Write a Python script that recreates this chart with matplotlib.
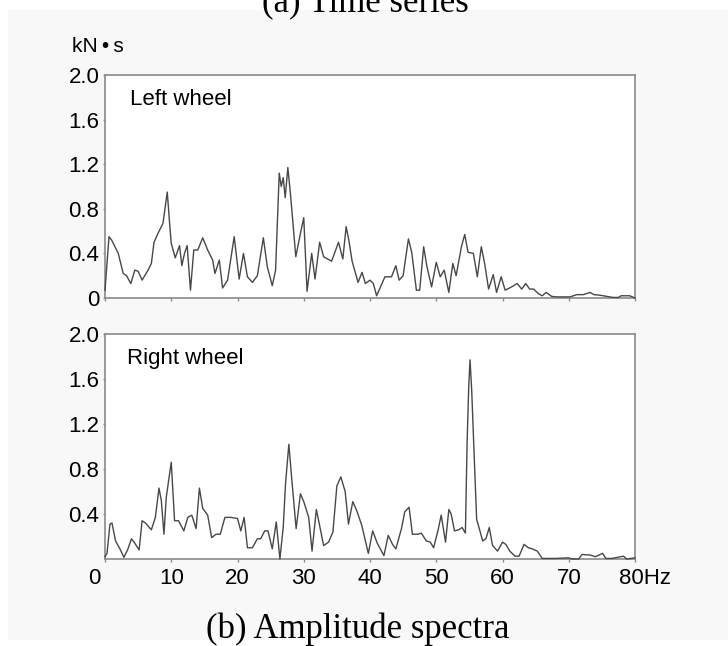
import matplotlib
matplotlib.use("Agg")
import matplotlib.pyplot as plt
import matplotlib.transforms as mtransforms
from matplotlib.patches import Rectangle
import numpy as np

# amplitude spectra: (frequency Hz, amplitude kN*s)
left_wheel = [
    (0.0, 0.07), (0.6, 0.55), (1.0, 0.52), (2.0, 0.40), (2.75, 0.22), (3.25, 0.20),
    (3.9, 0.13), (4.5, 0.25), (5.0, 0.24), (5.6, 0.16), (6.5, 0.25), (7.0, 0.31),
    (7.4, 0.50), (8.0, 0.58), (8.75, 0.67), (9.4, 0.95), (9.75, 0.67), (10.0, 0.49),
    (10.6, 0.36), (11.25, 0.47), (11.6, 0.29), (12.0, 0.40), (12.4, 0.47), (12.9, 0.07),
    (13.4, 0.43), (14.0, 0.43), (14.75, 0.54), (15.5, 0.43), (16.25, 0.34), (16.6, 0.22),
    (17.25, 0.34), (17.75, 0.09), (18.5, 0.16), (19.5, 0.55), (20.25, 0.17), (20.9, 0.40),
    (21.5, 0.19), (22.25, 0.14), (23.0, 0.20), (23.9, 0.54), (24.5, 0.28), (25.25, 0.11),
    (25.75, 0.25), (26.0, 0.65), (26.3, 1.12), (26.6, 1.00), (26.9, 1.08), (27.2, 0.90),
    (27.6, 1.17), (28.0, 0.93), (28.8, 0.37), (29.5, 0.58), (30.0, 0.72), (30.5, 0.06),
    (31.2, 0.40), (31.7, 0.17), (32.4, 0.50), (33.0, 0.37), (34.2, 0.33), (35.25, 0.50),
    (35.9, 0.35), (36.4, 0.64), (36.8, 0.52), (37.3, 0.33), (38.2, 0.14), (38.8, 0.23),
    (39.3, 0.13), (40.0, 0.16), (40.5, 0.13), (41.0, 0.02), (42.25, 0.19), (43.25, 0.19),
    (43.9, 0.29), (44.4, 0.16), (45.0, 0.20), (45.8, 0.53), (46.3, 0.41), (47.0, 0.07),
    (47.5, 0.07), (48.1, 0.46), (48.6, 0.28), (49.3, 0.10), (50.0, 0.32), (50.6, 0.19),
    (51.2, 0.25), (51.9, 0.05), (52.5, 0.31), (53.0, 0.20), (53.8, 0.46), (54.3, 0.57),
    (54.8, 0.41), (55.6, 0.40), (56.2, 0.19), (56.8, 0.46), (57.3, 0.31), (57.9, 0.08),
    (58.6, 0.21), (59.1, 0.05), (59.8, 0.19), (60.4, 0.07), (61.4, 0.10), (62.2, 0.13),
    (62.9, 0.08), (63.5, 0.13), (64.1, 0.08), (64.7, 0.08), (65.4, 0.04), (66.0, 0.02),
    (66.6, 0.05), (67.4, 0.015), (68.1, 0.01), (70.2, 0.01), (71.2, 0.03), (72.2, 0.03),
    (73.2, 0.05), (73.8, 0.03), (74.7, 0.025), (76.7, 0.005), (77.5, 0.005), (77.9, 0.02),
    (79.2, 0.02), (80.0, 0.0),
]

right_wheel = [
    (0.0, 0.02), (0.3, 0.05), (0.75, 0.31), (1.05, 0.32), (1.6, 0.16), (2.25, 0.09),
    (2.85, 0.015), (3.4, 0.08), (4.0, 0.18), (4.5, 0.14), (5.15, 0.08), (5.6, 0.34),
    (6.1, 0.32), (7.0, 0.26), (7.6, 0.37), (8.15, 0.63), (8.5, 0.52), (8.9, 0.22),
    (9.25, 0.55), (10.0, 0.86), (10.5, 0.34), (11.1, 0.34), (11.9, 0.25), (12.5, 0.37),
    (13.1, 0.39), (13.75, 0.27), (14.25, 0.63), (14.75, 0.45), (15.5, 0.39), (16.1, 0.19),
    (16.75, 0.22), (17.4, 0.22), (18.1, 0.37), (19.0, 0.37), (20.0, 0.36), (20.5, 0.25),
    (21.0, 0.37), (21.5, 0.10), (22.25, 0.10), (23.0, 0.18), (23.5, 0.18), (24.1, 0.25),
    (24.6, 0.25), (25.25, 0.09), (25.85, 0.33), (26.4, 0.0), (26.9, 0.28), (27.25, 0.67),
    (27.75, 1.02), (28.25, 0.67), (28.85, 0.27), (29.5, 0.58), (30.0, 0.51), (30.75, 0.37),
    (31.25, 0.07), (31.9, 0.44), (32.25, 0.34), (33.0, 0.12), (33.75, 0.15), (34.4, 0.24),
    (35.0, 0.65), (35.6, 0.73), (36.25, 0.60), (36.75, 0.31), (37.4, 0.51), (38.0, 0.43),
    (38.75, 0.30), (39.75, 0.05), (40.4, 0.25), (41.1, 0.14), (42.1, 0.03), (42.75, 0.21),
    (43.4, 0.13), (43.9, 0.09), (44.75, 0.27), (45.25, 0.42), (45.9, 0.46), (46.4, 0.22),
    (47.25, 0.22), (47.75, 0.23), (48.5, 0.16), (49.1, 0.15), (49.6, 0.10), (50.25, 0.25),
    (50.75, 0.39), (51.4, 0.15), (51.9, 0.44), (52.25, 0.40), (52.75, 0.25), (53.4, 0.26),
    (53.9, 0.28), (54.4, 0.23), (54.65, 1.02), (54.9, 1.53), (55.1, 1.77), (55.35, 1.50),
    (55.75, 0.88), (56.1, 0.35), (56.5, 0.27), (57.0, 0.16), (57.5, 0.18), (58.0, 0.28),
    (58.5, 0.12), (59.25, 0.07), (60.0, 0.15), (60.5, 0.13), (61.1, 0.07), (61.9, 0.025),
    (62.5, 0.025), (63.25, 0.13), (63.9, 0.10), (64.5, 0.09), (65.25, 0.07), (66.0, 0.005),
    (68.0, 0.005), (70.0, 0.01), (70.5, 0.0), (71.5, 0.0), (72.0, 0.04), (73.25, 0.035),
    (74.0, 0.02), (75.1, 0.05), (75.6, 0.005), (76.5, 0.005), (78.25, 0.025), (78.75, 0.0),
    (80.0, 0.01),
]

x_ticks = [0, 10, 20, 30, 40, 50, 60, 70, 80]
x_labels = ["0", "10", "20", "30", "40", "50", "60", "70", "80Hz"]
y_ticks_top = [0, 0.4, 0.8, 1.2, 1.6, 2.0]
y_labels_top = ["0", "0.4", "0.8", "1.2", "1.6", "2.0"]
y_ticks_bot = [0.4, 0.8, 1.2, 1.6, 2.0]
y_labels_bot = ["0.4", "0.8", "1.2", "1.6", "2.0"]

sans = ["Liberation Sans", "DejaVu Sans"]
serif = "Liberation Serif"
line_col = "#484848"
frame_col = "#8a8a8a"

fig = plt.figure(figsize=(7.28, 6.46), dpi=100)
fig.patch.set_facecolor("white")
# faint grey sheet behind the scanned figure
fig.patches.append(Rectangle((8 / 728, 6 / 646), 1, 630 / 646, transform=fig.transFigure,
                             facecolor="#f8f8f8", edgecolor="none", zorder=-10))

ax1 = fig.add_axes([105 / 728, 1 - 298 / 646, 530 / 728, 223 / 646])
ax2 = fig.add_axes([105 / 728, 1 - 559 / 646, 530 / 728, 225 / 646])


def style(ax):
    ax.set_xlim(0, 80)
    ax.set_ylim(0, 2.0)
    for s in ax.spines.values():
        s.set_color(frame_col)
        s.set_linewidth(1.2)
    ax.tick_params(axis="x", direction="out", length=2, width=1, color=frame_col,
                   pad=4.5, labelsize=16)
    ax.tick_params(axis="y", direction="out", length=1.5, width=1, color=frame_col,
                   pad=2.5, labelsize=16)
    ax.set_xticks(x_ticks)


for ax, pts, name, tx in [(ax1, left_wheel, "Left wheel", 0.047),
                          (ax2, right_wheel, "Right wheel", 0.041)]:
    arr = np.array(pts)
    style(ax)
    ax.plot(arr[:, 0], arr[:, 1], color=line_col, lw=1.0, clip_on=False, zorder=3)
    ax.text(tx, 0.89, name, transform=ax.transAxes, ha="left", va="center",
            fontsize=16, family=sans)

ax1.set_yticks(y_ticks_top)
ax1.set_yticklabels(y_labels_top, family=sans)
ax1.set_xticklabels([])

ax2.set_yticks(y_ticks_bot)
ax2.set_yticklabels(y_labels_bot, family=sans)
ax2.set_xticklabels(x_labels, family=sans)

# keep "80" centred on its tick with "Hz" hanging to the right, and pull "0" to the corner
lbls = ax2.get_xticklabels()
lbls[-1].set_transform(lbls[-1].get_transform() +
                       mtransforms.ScaledTranslation(0.10, 0, fig.dpi_scale_trans))
lbls[0].set_transform(lbls[0].get_transform() +
                      mtransforms.ScaledTranslation(-0.11, 0, fig.dpi_scale_trans))

fig.text(72 / 728, 1 - 46 / 646, "kN\u2009\u2022\u2009s", ha="left", va="center",
         fontsize=15, family=sans)
fig.text(365 / 728, 1 - 11 / 646, "(a) Time series", ha="center", va="baseline",
         fontsize=25, family=serif)
fig.text(358 / 728, 1 - 638 / 646, "(b) Amplitude spectra", ha="center", va="baseline",
         fontsize=25, family=serif)

fig.savefig("out.png", dpi=100, facecolor=fig.get_facecolor())
